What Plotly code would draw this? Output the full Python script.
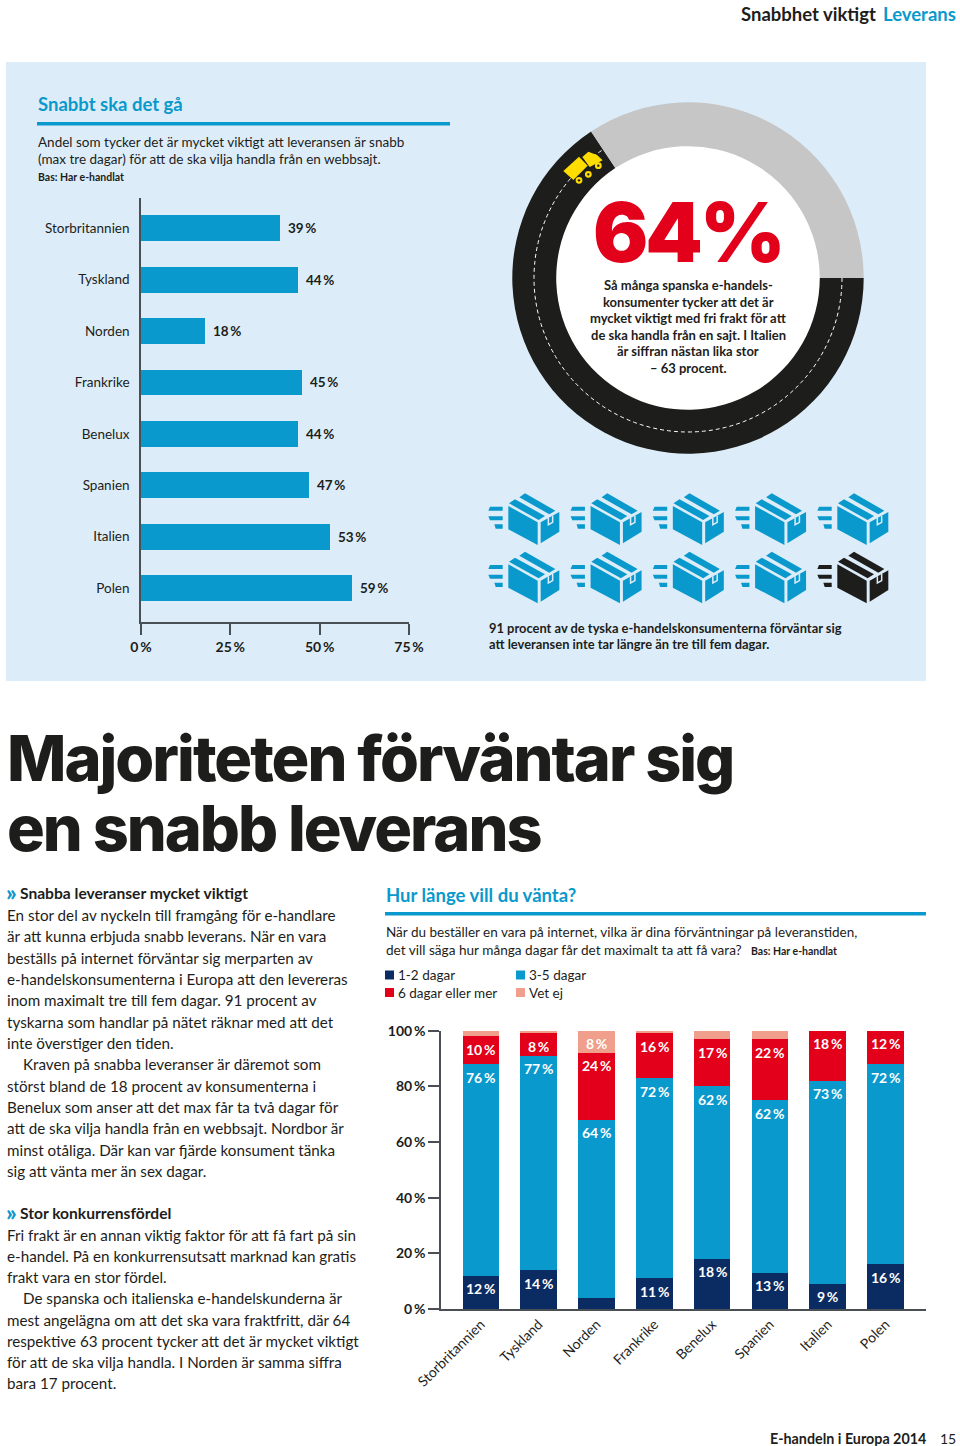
import numpy as np
import plotly.graph_objects as go

# ---------- data ----------
hbar_categories = ["Storbritannien", "Tyskland", "Norden", "Frankrike", "Benelux", "Spanien", "Italien", "Polen"]
hbar_values = [39, 44, 18, 45, 44, 47, 53, 59]
hbar_ticks = [0, 25, 50, 75]

stack_categories = ["Storbritannien", "Tyskland", "Norden", "Frankrike", "Benelux", "Spanien", "Italien", "Polen"]
days_1_2 = [12, 14, 4, 11, 18, 13, 9, 16]
days_3_5 = [76, 77, 64, 72, 62, 62, 73, 72]
days_6_plus = [10, 8, 24, 16, 17, 22, 18, 12]
dont_know = [2, 1, 8, 1, 3, 3, 0, 0]
stack_ticks = [0, 20, 40, 60, 80, 100]
# Printed ring is drawn a little beyond the 64 % it states
donut_values = [65.7, 34.3]

# ---------- style ----------
W, H = 960, 1446
BLUE = "#0a99cc"; NAVY = "#0b2c62"; RED = "#e2001a"; SALMON = "#ef9f8b"
INK = "#1d1d1b"; PANEL = "#dcedf9"; AXIS = "#4a4f55"; GREY = "#c6c6c6"; YEL = "#ffdd00"
FONT = "Lato"
HEAVY = "Inter"
THIN = "\u2009"


def fx(x):
    return x / W


def fy(y):
    return 1 - y / H


shapes = []
annotations = []


def T(x, y, text, size=14, color=INK, weight=400, anchor="left", ls=None, font=FONT):
    if ls is not None:
        text = f'<span style="letter-spacing:{ls}px">{text}</span>'
    annotations.append(dict(
        x=fx(x), y=fy(y), xref="paper", yref="paper", text=text, showarrow=False,
        xanchor=anchor, yanchor="middle", borderpad=0, align=anchor,
        font=dict(family=font, size=size, color=color, weight=weight)))


def rect(x0, y0, x1, y1, color, layer="below"):
    shapes.append(dict(type="rect", xref="paper", yref="paper", x0=fx(x0), x1=fx(x1), y0=fy(y0), y1=fy(y1),
                       fillcolor=color, line_width=0, layer=layer))


def circle(cx, cy, r, color, layer="above"):
    shapes.append(dict(type="circle", xref="paper", yref="paper", x0=fx(cx - r), x1=fx(cx + r),
                       y0=fy(cy - r), y1=fy(cy + r), fillcolor=color, line_width=0, layer=layer))


def poly(pts, color, layer="above"):
    d = "M" + "L".join(f"{fx(x):.5f},{fy(y):.5f}" for x, y in pts) + "Z"
    shapes.append(dict(type="path", xref="paper", yref="paper", path=d, fillcolor=color, line_width=0, layer=layer))


def stroke(pts, color, width):
    d = "M" + "L".join(f"{fx(x):.5f},{fy(y):.5f}" for x, y in pts)
    shapes.append(dict(type="path", xref="paper", yref="paper", path=d, layer="above",
                       line=dict(color=color, width=width)))


# ---------- page furniture ----------
rect(6, 62, 926, 681, PANEL)
rect(37, 122, 450, 125.5, BLUE)
rect(385, 912, 926, 915.5, BLUE)

DX, DY = 688, 278
circle(DX, DY, 133, "white", layer="below")

# dashed road line
a = np.radians(np.linspace(0, 236, 200))
road = "M" + "L".join(f"{fx(DX + 154 * np.cos(t)):.5f},{fy(DY + 154 * np.sin(t)):.5f}" for t in a)
shapes.append(dict(type="path", xref="paper", yref="paper", path=road, layer="above",
                   line=dict(color="white", width=1, dash="4px,3px")))


# truck (measured in crop coordinates, 3x from 555,145)
def tz(p):
    return [(555 + x / 3, 145 + y / 3) for x, y in p]


poly(tz([(25, 78), (72, 35), (98, 62), (55, 105)]), YEL)
poly(tz([(82, 36), (100, 20), (126, 30), (143, 46), (104, 66)]), YEL)
for wx, wy in [(72, 106), (100, 88), (130, 62)]:
    circle(555 + wx / 3, 145 + wy / 3, 3.4, YEL)
    circle(555 + wx / 3, 145 + wy / 3, 1.2, INK)


# parcels (measured in crop coordinates, 3x from 480,480)
def parcel(ox, oy, color):
    def p(pts):
        return [(ox + x / 3, oy + y / 3) for x, y in pts]
    poly(p([(85, 78), (173, 127), (173, 195), (85, 148)]), color)
    poly(p([(182, 127), (238, 96), (238, 155), (182, 190)]), color)
    stroke(p([(205, 114), (205, 134), (218, 127), (218, 107)]), PANEL, 1.5)
    poly(p([(135, 40), (226, 92), (208, 103), (118, 52)]), color)
    poly(p([(105, 58), (195, 108), (176, 120), (87, 70)]), color)
    poly(p([(30, 80), (68, 80), (68, 92), (25, 92)]), color)
    poly(p([(25, 109), (68, 109), (68, 121), (30, 121)]), color)
    poly(p([(43, 133), (68, 133), (68, 146), (47, 146)]), color)


for r in range(2):
    for c in range(5):
        parcel(480 + c * 82.25, 480 + r * 58.3, INK if (r == 1 and c == 4) else BLUE)

# ---------- text ----------
T(740, 14, "Snabbhet viktigt", 18.5, INK, 700)
T(957, 14, "Leverans", 18.5, BLUE, 700, anchor="right")

T(37, 104, "Snabbt ska det gå", 18.5, BLUE, 700)
T(37, 142, "Andel som tycker det är mycket viktigt att leveransen är snabb", 13.5)
T(37, 159, "(max tre dagar) för att de ska vilja handla från en webbsajt.", 13.5)
T(37, 177, "Bas: Har e-handlat", 10.5, INK, 700)

T(688, 233, "64%", 82, RED, 900, anchor="center", ls=-3, font=HEAVY)
for i, line in enumerate(["Så många spanska e-handels-", "konsumenter tycker att det är",
                          "mycket viktigt med fri frakt för att", "de ska handla från en sajt. I Italien",
                          "är siffran nästan lika stor", "– 63 procent."]):
    T(688, 285 + i * 16.5, line, 13, INK, 700, anchor="center")

T(488, 628, "91 procent av de tyska e-handelskonsumenterna förväntar sig", 12.9, INK, 700)
T(488, 644, "att leveransen inte tar längre än tre till fem dagar.", 12.9, INK, 700)

T(6, 758, "Majoriteten förväntar sig", 63, INK, 800, ls=-2, font=HEAVY)
T(6, 828, "en snabb leverans", 63, INK, 800, ls=-2, font=HEAVY)

T(5, 892, "»", 23, BLUE, 900)
T(19, 893, "Snabba leveranser mycket viktigt", 15.6, INK, 700)
col1 = ["En stor del av nyckeln till framgång för e-handlare",
        "är att kunna erbjuda snabb leverans. När en vara",
        "beställs på internet förväntar sig merparten av",
        "e-handelskonsumenterna i Europa att den levereras",
        "inom maximalt tre till fem dagar. 91 procent av",
        "tyskarna som handlar på nätet räknar med att det",
        "inte överstiger den tiden."]
col2 = ["Kraven på snabba leveranser är däremot som",
        "störst bland de 18 procent av konsumenterna i",
        "Benelux som anser att det max får ta två dagar för",
        "att de ska vilja handla från en webbsajt. Nordbor är",
        "minst otåliga. Där kan var fjärde konsument tänka",
        "sig att vänta mer än sex dagar."]
col3 = ["Fri frakt är en annan viktig faktor för att få fart på sin",
        "e-handel. På en konkurrensutsatt marknad kan gratis",
        "frakt vara en stor fördel."]
col4 = ["De spanska och italienska e-handelskunderna är",
        "mest angelägna om att det ska vara fraktfritt, där 64",
        "respektive 63 procent tycker att det är mycket viktigt",
        "för att de ska vilja handla. I Norden är samma siffra",
        "bara 17 procent."]
for i, line in enumerate(col1 + col2):
    T(22 if line.startswith("Kraven") else 6, 915 + i * 21.33, line, 15.2)
T(5, 1212, "»", 23, BLUE, 900)
T(19, 1213, "Stor konkurrensfördel", 15.6, INK, 700)
for i, line in enumerate(col3 + col4):
    T(22 if line.startswith("De spanska") else 6, 1234.5 + i * 21.25, line, 15.2)

T(385, 895, "Hur länge vill du vänta?", 18.5, BLUE, 700)
T(385, 932, "När du beställer en vara på internet, vilka är dina förväntningar på leveranstiden,", 13.5)
T(385, 950, "det vill säga hur många dagar får det maximalt ta att få vara?", 13.6)
T(750, 951, "Bas: Har e-handlat", 10.5, INK, 700)

# legend
legend_items = [(385, 975, NAVY, "1-2 dagar"), (516, 975, BLUE, "3-5 dagar"),
                (385, 992.5, RED, "6 dagar eller mer"), (516, 992.5, SALMON, "Vet ej")]
for lx, ly, col, lab in legend_items:
    rect(lx, ly - 4.5, lx + 9, ly + 4.5, col)
    T(lx + 12, ly, lab, 13.5)

T(769, 1438, "E-handeln i Europa 2014", 14.3, INK, 700)
T(957, 1438, "15", 14, INK, 400, anchor="right")

# ---------- traces ----------
fig = go.Figure()

fig.add_trace(go.Pie(values=donut_values, hole=0.75, sort=False, direction="clockwise", rotation=90,
                     textinfo="none", hoverinfo="skip", showlegend=False,
                     marker=dict(colors=[INK, GREY], line=dict(width=0)),
                     domain=dict(x=[fx(DX - 175.7), fx(DX + 175.7)], y=[fy(DY + 175.7), fy(DY - 175.7)])))

fig.add_trace(go.Bar(y=hbar_categories, x=hbar_values, orientation="h", marker=dict(color=BLUE, line_width=0),
                     width=0.5, xaxis="x", yaxis="y", showlegend=False))
for cat, v in zip(hbar_categories, hbar_values):
    annotations.append(dict(x=v, y=cat, xref="x", yref="y", text=f"{v}{THIN}%", showarrow=False, xanchor="left",
                            xshift=6, font=dict(family=FONT, size=13.5, color=INK, weight=700)))

series = [("1-2 dagar", days_1_2, NAVY), ("3-5 dagar", days_3_5, BLUE),
          ("6 dagar eller mer", days_6_plus, RED), ("Vet ej", dont_know, SALMON)]
base = np.zeros(len(stack_categories))
for name, vals, col in series:
    fig.add_trace(go.Bar(name=name, x=stack_categories, y=vals, marker=dict(color=col, line_width=0),
                         width=0.635, xaxis="x2", yaxis="y2", showlegend=False))
    top = base + np.array(vals)
    for cat, v, t in zip(stack_categories, vals, top):
        # small slices and the Norden base segment carry no printed label
        if v >= 8 and not (name == "1-2 dagar" and cat == "Norden"):
            annotations.append(dict(x=cat, y=float(t), xref="x2", yref="y2", text=f"{v}{THIN}%", showarrow=False,
                                    yanchor="middle", yshift=-13,
                                    font=dict(family=FONT, size=14, color="white", weight=700)))
    base = top

fig.update_layout(
    width=W, height=H, margin=dict(l=0, r=0, t=0, b=0, pad=0, autoexpand=False), autosize=False,
    paper_bgcolor="white", plot_bgcolor="rgba(0,0,0,0)", barmode="stack", showlegend=False,
    shapes=shapes, annotations=annotations,
    xaxis=dict(domain=[fx(141), fx(409)], range=[0, 75], tickvals=hbar_ticks, ticktext=[f"{t}{THIN}%" for t in hbar_ticks],
               showgrid=False, zeroline=False, showline=True, linecolor=AXIS, linewidth=1.5, automargin=False,
               ticks="outside", ticklen=11, tickcolor=AXIS, tickwidth=1.5,
               tickfont=dict(family=FONT, size=14, color=INK, weight=700), anchor="y"),
    yaxis=dict(domain=[fy(622), fy(198)], type="category", categoryorder="array", categoryarray=hbar_categories,
               range=[7.66, -0.59], showgrid=False, zeroline=False, showline=True, linecolor=AXIS, linewidth=1.5,
               automargin=False, ticks="", ticklabelstandoff=7, tickfont=dict(family=FONT, size=13.5, color=INK), anchor="x"),
    xaxis2=dict(domain=[fx(441), fx(926)], type="category", categoryorder="array", categoryarray=stack_categories,
                range=[-0.69, 7.70], showgrid=False, zeroline=False, showline=True, linecolor=AXIS, linewidth=1.5,
                automargin=False, ticks="", tickangle=-45, tickfont=dict(family=FONT, size=14, color=INK), anchor="y2"),
    yaxis2=dict(domain=[fy(1309), fy(1030.7)], range=[0, 100], tickvals=stack_ticks,
                ticktext=[f"{t}{THIN}%" for t in stack_ticks], showgrid=False, zeroline=False, showline=True,
                linecolor=AXIS, linewidth=1.5, automargin=False, ticks="outside", ticklen=11, tickcolor=AXIS, tickwidth=1.5,
                tickfont=dict(family=FONT, size=14, color=INK, weight=700), anchor="x2"),
)

fig.write_html("out.html", config=dict(displayModeBar=False),
               post_script="document.body.style.margin='0';document.body.style.overflow='hidden';")
